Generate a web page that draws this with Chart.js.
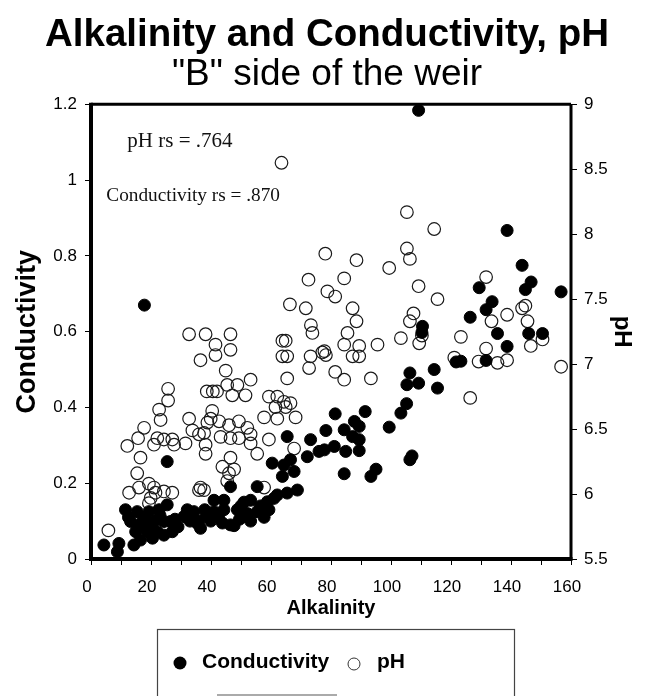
<!DOCTYPE html>
<html>
<head>
<meta charset="utf-8">
<script src="https://cdn.jsdelivr.net/npm/chart.js@4.4.0/dist/chart.umd.min.js"></script>
<style>
  html, body { margin: 0; padding: 0; background: #fff; }
  #wrap { width: 654px; height: 696px; }
</style>
</head>
<body>
<div id="wrap"><canvas id="chart" width="654" height="696"></canvas></div>
<script>
// ===== DATA =====
const titleText = "Alkalinity and Conductivity, pH";
const subtitleText = "\"B\" side of the weir";

// Conductivity vs alkalinity (filled dots)
const condAlk = [4.3, 8.8, 9.3, 14.3, 16.5, 20.5, 14.9, 18.8, 22.1, 24.3, 27.1, 13.2, 17.1, 21.0, 24.3, 26.5,
  11.5, 15.4, 19.3, 22.7, 25.4, 31.0, 32.1, 34.3, 35.4, 25.4, 17.8, 12.5, 18.0, 23.0, 28.0, 29.0, 33.0, 20.0, 16.0,
  36.0, 36.5, 37.9, 39.9, 41.0, 41.0, 43.8, 44.3, 44.3, 46.5, 46.5, 47.7, 48.8, 51.0, 52.1, 53.2, 53.2, 55.4, 55.4,
  57.7, 58.8, 59.3, 50.0, 56.5, 42.5, 49.5, 38.5, 61.0,
  60.4, 62.1, 63.8, 64.3, 65.4, 65.4, 66.5, 67.7, 68.8, 72.1, 73.2, 76.0, 77.8, 78.3, 81.1, 81.4, 84.4, 84.4, 84.9,
  87.2, 87.8, 89.4, 89.4, 89.4, 91.4, 93.3, 95.0, 99.4, 103.3, 105.2, 105.3, 106.3, 106.3, 107.0, 109.2, 109.2,
  110.3, 110.5, 114.4, 115.5, 121.7, 123.3, 126.4, 129.4, 131.7, 131.7, 133.7, 135.5, 138.7, 138.7, 143.7, 144.8,
  145.9, 146.7, 150.5, 156.7];
const condVal = [0.037, 0.019, 0.041, 0.037, 0.05, 0.055, 0.072, 0.072, 0.072, 0.063, 0.072, 0.099, 0.099, 0.099, 0.099, 0.099,
  0.13, 0.125, 0.125, 0.13, 0.143, 0.112, 0.13, 0.125, 0.094, 0.257, 0.67, 0.11, 0.11, 0.115, 0.105, 0.085, 0.1, 0.085, 0.085,
  0.10, 0.081, 0.13, 0.10, 0.125, 0.155, 0.095, 0.13, 0.155, 0.09, 0.191, 0.088, 0.13, 0.15, 0.12, 0.155, 0.10, 0.125, 0.191,
  0.11, 0.151, 0.13, 0.14, 0.14, 0.11, 0.105, 0.115, 0.16,
  0.253, 0.169, 0.218, 0.248, 0.174, 0.323, 0.262, 0.231, 0.182, 0.27, 0.315, 0.284, 0.288, 0.339, 0.297, 0.383, 0.341, 0.225, 0.284,
  0.323, 0.363, 0.35, 0.315, 0.286, 0.389, 0.218, 0.237, 0.348, 0.385, 0.41, 0.46, 0.491, 0.262, 0.272, 0.464, 1.184,
  0.598, 0.614, 0.5, 0.451, 0.52, 0.522, 0.638, 0.716, 0.658, 0.524, 0.679, 0.595, 0.561, 0.867, 0.775, 0.711,
  0.595, 0.731, 0.595, 0.705];

// pH vs alkalinity (open circles)
const phAlk = [5.8, 12.1, 12.7, 15.4, 15.7, 16.0, 16.5, 17.7, 19.3, 19.3, 19.9, 21.0, 21.0, 21.5, 22.1, 22.7, 23.2, 24.3, 24.3,
  25.7, 25.7, 27.1, 27.1, 27.7, 31.5, 32.7, 32.7, 33.8, 36.0, 36.0, 36.5, 36.5, 37.7, 37.7, 38.2, 38.2, 38.2, 38.6, 38.8,
  39.9, 40.4, 40.6, 41.5, 41.5, 42.0, 42.7, 43.2, 43.8, 44.9, 45.4, 45.4, 46.0, 46.0, 46.5, 46.5, 46.5, 46.5, 47.1, 47.7,
  48.8, 49.3, 49.3, 51.5, 52.1, 53.2, 53.2, 53.2, 55.4, 57.7, 57.7, 59.3, 59.3, 61.5, 62.1, 62.1, 63.5, 63.8, 63.8, 64.3,
  64.9, 64.9, 65.4, 65.4, 66.3, 66.5, 67.7, 68.2, 71.6, 72.5, 72.7, 73.2, 73.3, 73.8, 77.1, 77.8, 78.1, 78.8, 78.3, 81.4,
  81.4, 84.4, 84.4, 84.4, 85.5, 87.2, 87.2, 88.5, 88.5, 89.4, 89.4, 93.3, 95.5, 99.4, 103.3, 105.3, 105.3, 106.3, 106.3,
  107.5, 109.2, 109.4, 110.3, 114.4, 115.5, 121.1, 123.3, 126.4, 129.2, 131.7, 131.7, 133.5, 135.5, 138.7, 138.7, 143.7,
  144.8, 145.5, 146.6, 150.5, 156.7];
const phVal = [5.72, 6.37, 6.01, 6.16, 6.43, 6.05, 6.28, 6.51, 6.08, 5.93, 5.97, 6.05, 6.38, 6.01, 6.43, 6.65, 6.57, 6.42, 6.02,
  6.81, 6.72, 6.42, 6.01, 6.38, 6.39, 6.58, 7.23, 6.49, 6.46, 6.03, 7.03, 6.05, 6.03, 6.47, 7.23, 6.38, 6.31, 6.79, 6.55,
  6.58, 6.64, 6.79, 7.15, 7.07, 6.79, 6.56, 6.44, 6.21, 6.95, 6.84, 6.10, 6.53, 6.16, 7.23, 7.11, 6.43, 6.28, 6.76, 6.19,
  6.84, 6.56, 6.43, 6.76, 6.51, 6.88, 6.46, 6.39, 6.31, 6.59, 6.05, 6.75, 6.42, 6.67, 6.75, 6.58, 8.55, 7.18, 7.06, 6.71,
  7.18, 6.67, 7.06, 6.89, 7.46, 6.70, 6.35, 6.59, 7.43, 7.65, 6.97, 7.06, 7.30, 7.24, 7.09, 7.10, 7.85, 7.56, 7.07, 7.52,
  6.94, 7.66, 7.15, 6.88, 7.24, 7.43, 7.06, 7.80, 7.33, 7.14, 7.06, 6.89, 7.15, 7.74, 7.20, 8.17, 7.89, 7.81, 7.33,
  7.39, 7.60, 7.16, 7.22, 8.04, 7.50, 7.05, 7.21, 6.74, 7.02, 7.67, 7.12, 7.33, 7.01, 7.38, 7.03, 7.43,
  7.45, 7.33, 7.14, 7.19, 6.98];

// axis ticks
const xTickValues = [0, 10, 20, 30, 40, 50, 60, 70, 80, 90, 100, 110, 120, 130, 140, 150, 160];
const xTickLabels = ["0", "", "20", "", "40", "", "60", "", "80", "", "100", "", "120", "", "140", "", "160"];
const condTickValues = [0, 0.2, 0.4, 0.6, 0.8, 1, 1.2];
const condTickLabels = ["0", "0.2", "0.4", "0.6", "0.8", "1", "1.2"];
const phTickValues = [5.5, 6, 6.5, 7, 7.5, 8, 8.5, 9];
const phTickLabels = ["5.5", "6", "6.5", "7", "7.5", "8", "8.5", "9"];

// correlation notes (anchored in data units)
const noteText = ["pH rs = .764", "Conductivity rs = .870"];
const noteAlk = [12.1, 5.1];
const noteCond = [1.088, 0.946];
const noteSize = [21, 19.3];

// ===== HELPERS =====
const SANS = "'Liberation Sans', Arial, sans-serif";
const SERIF = "'Liberation Serif', 'Times New Roman', serif";

function toPoints(xs, ys) {
  return xs.map((x, i) => ({ x: x, y: ys[i] }));
}

// frame round the plot area
const framePlugin = {
  id: "frame",
  afterDatasetsDraw(chart) {
    const a = chart.chartArea;
    const c = chart.ctx;
    c.save();
    c.strokeStyle = "#000";
    c.lineWidth = 3;
    c.beginPath();
    c.moveTo(a.left, a.top); c.lineTo(a.right, a.top);
    c.moveTo(a.right, a.top); c.lineTo(a.right, a.bottom);
    c.stroke();
    c.lineWidth = 4;
    c.beginPath();
    c.moveTo(a.left, a.top - 1.5); c.lineTo(a.left, a.bottom);
    c.lineTo(a.right + 1.5, a.bottom);
    c.stroke();
    c.restore();
  }
};

// rs notes inside the plot
const notesPlugin = {
  id: "notes",
  afterDraw(chart) {
    const c = chart.ctx;
    const xs = chart.scales.x, ys = chart.scales.y;
    c.save();
    c.fillStyle = "#111";
    c.textBaseline = "alphabetic";
    c.textAlign = "left";
    noteText.forEach((t, i) => {
      c.font = noteSize[i] + "px " + SERIF;
      c.fillText(t, xs.getPixelForValue(noteAlk[i]), ys.getPixelForValue(noteCond[i]));
    });
    c.restore();
  }
};

// boxed legend under the chart
const legendPlugin = {
  id: "boxLegend",
  afterDraw(chart) {
    const c = chart.ctx;
    const ds = chart.data.datasets;
    c.save();
    c.strokeStyle = "#444";
    c.lineWidth = 1.2;
    c.strokeRect(157.5, 629.5, 357, 80);
    c.strokeStyle = "#aaa";
    c.lineWidth = 2;
    c.beginPath(); c.moveTo(217, 695); c.lineTo(337, 695); c.stroke();

    c.font = "bold 21px " + SANS;
    c.textBaseline = "middle";
    c.textAlign = "left";
    c.fillStyle = "#000";
    // filled marker
    c.beginPath(); c.arc(180, 663, 6.5, 0, Math.PI * 2);
    c.fillStyle = ds[0].pointBackgroundColor; c.fill();
    c.fillStyle = "#000";
    c.fillText(ds[0].label, 202, 662);
    // open marker
    c.beginPath(); c.arc(354, 664, 6, 0, Math.PI * 2);
    c.lineWidth = 1; c.strokeStyle = "#333"; c.stroke();
    c.fillText(ds[1].label, 377, 662);
    c.restore();
  }
};

// ===== CHART =====
const canvas = document.getElementById("chart");
const ctx = canvas.getContext("2d");

const tickFont = { family: SANS, size: 17 };

const chart = new Chart(ctx, {
  type: "scatter",
  data: {
    datasets: [{
      label: "Conductivity",
      data: toPoints(condAlk, condVal),
      yAxisID: "y",
      pointRadius: 6,
      pointBackgroundColor: "#000",
      pointBorderColor: "#000",
      pointBorderWidth: 1,
      clip: false
    }, {
      label: "pH",
      data: toPoints(phAlk, phVal),
      yAxisID: "y2",
      pointRadius: 6.3,
      pointBackgroundColor: "rgba(0,0,0,0)",
      pointBorderColor: "#1a1a1a",
      pointBorderWidth: 1.2,
      clip: false
    }]
  },
  options: {
    responsive: false,
    animation: false,
    devicePixelRatio: 1,
    layout: { padding: { top: 0, bottom: 75, left: 0, right: 0 } },
    plugins: {
      legend: { display: false },
      tooltip: { enabled: false },
      title: {
        display: true,
        text: titleText,
        color: "#000",
        font: { family: SANS, size: 38.5, weight: "bold" },
        padding: { top: 12, bottom: 0 }
      },
      subtitle: {
        display: true,
        text: subtitleText,
        color: "#000",
        font: { family: SANS, size: 37 },
        padding: { top: -6, bottom: 7.7 }
      }
    },
    scales: {
      x: {
        type: "linear",
        min: 0,
        max: 160,
        afterBuildTicks: s => { s.ticks = xTickValues.map(v => ({ value: v })); },
        afterFit: s => { s.height = 62; },
        ticks: {
          callback: (v, i) => xTickLabels[i],
          color: "#000",
          font: tickFont,
          padding: 12,
          maxRotation: 0,
          autoSkip: false,
          labelOffset: -4
        },
        grid: { drawOnChartArea: false, drawTicks: true, tickLength: 6, tickColor: "#000" },
        border: { display: false },
        title: {
          display: true,
          text: "Alkalinity",
          color: "#000",
          font: { family: SANS, size: 20, weight: "bold" },
          padding: { top: 0, bottom: 1 }
        }
      },
      y: {
        position: "left",
        min: 0,
        max: 1.2,
        afterBuildTicks: s => { s.ticks = condTickValues.map(v => ({ value: v })); },
        afterFit: s => { s.width = 91; },
        ticks: { callback: (v, i) => condTickLabels[i], color: "#000", font: tickFont, padding: 8 },
        grid: { drawOnChartArea: false, drawTicks: true, tickLength: 6, tickColor: "#000" },
        border: { display: false },
        title: {
          display: true,
          text: "Conductivity",
          color: "#000",
          font: { family: SANS, size: 27, weight: "bold" },
          padding: { top: 11, bottom: 0 }
        }
      },
      y2: {
        position: "right",
        min: 5.5,
        max: 9,
        afterBuildTicks: s => { s.ticks = phTickValues.map(v => ({ value: v })); },
        afterFit: s => { s.width = 83; },
        ticks: { callback: (v, i) => phTickLabels[i], color: "#000", font: tickFont, padding: 7 },
        grid: { drawOnChartArea: false, drawTicks: true, tickLength: 6, tickColor: "#000" },
        border: { display: false },
        title: {
          display: true,
          text: "pH",
          color: "#000",
          font: { family: SANS, size: 24, weight: "bold" },
          padding: { top: 18, bottom: 0 }
        }
      }
    }
  },
  plugins: [framePlugin, notesPlugin, legendPlugin]
});
</script>
</body>
</html>
